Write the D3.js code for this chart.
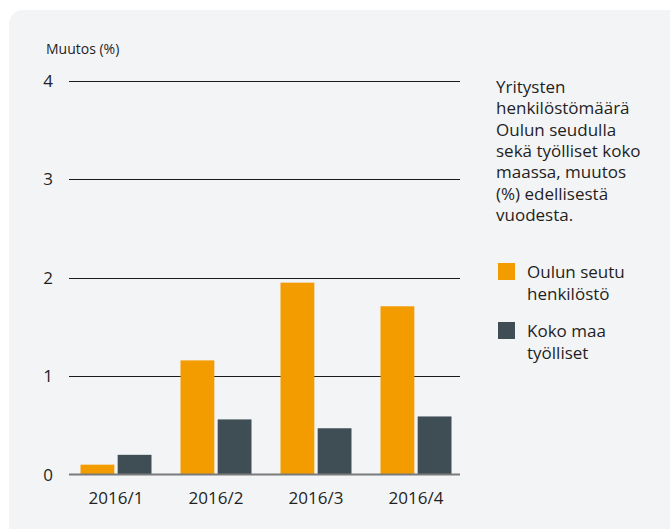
<!DOCTYPE html>
<html>
<head>
<meta charset="utf-8">
<script src="https://cdn.jsdelivr.net/npm/d3@7"></script>
<style>
  html, body { margin: 0; padding: 0; background: #ffffff; }
  svg { display: block; font-family: "Open Sans", "Noto Sans", sans-serif; }
</style>
</head>
<body>
<svg id="chart" width="670" height="529"></svg>
<script>
const categories = ["2016/1", "2016/2", "2016/3", "2016/4"];
const seriesNames = ["Oulun seutu henkilöstö", "Koko maa työlliset"];
const oulunSeutu = [0.1, 1.16, 1.95, 1.71];
const kokoMaa = [0.2, 0.56, 0.47, 0.59];
const yTicks = [0, 1, 2, 3, 4];
const yAxisTitle = "Muutos (%)";
const descLines = ["Yritysten", "henkilöstömäärä", "Oulun seudulla", "sekä työlliset koko", "maassa, muutos", "(%) edellisestä", "vuodesta."];
const legendLines = [["Oulun seutu", "henkilöstö"], ["Koko maa", "työlliset"]];
const colors = ["#f39c00", "#3f4e55"];

const svg = d3.select("#chart");
const textColor = "#1f1f1f";

// panel background
svg.append("rect")
  .attr("x", 9).attr("y", 10)
  .attr("width", 675).attr("height", 540)
  .attr("rx", 14).attr("ry", 14)
  .attr("fill", "#f3f4f6");

const y = d3.scaleLinear().domain([0, 4]).range([474.5, 81]);
const x0 = d3.scaleBand().domain(categories).range([66, 466]).paddingInner(0.29).paddingOuter(0.145);
const x1 = d3.scaleBand().domain([0, 1]).range([0, x0.bandwidth()]).paddingInner(0.09);

const gridLeft = 69, gridRight = 460;

// gridlines
svg.append("g").selectAll("line")
  .data(yTicks.filter(d => d !== 0))
  .join("line")
  .attr("x1", gridLeft).attr("x2", gridRight)
  .attr("y1", d => Math.round(y(d)) + 0.5).attr("y2", d => Math.round(y(d)) + 0.5)
  .attr("stroke", "#1a1a1a").attr("stroke-width", 1);

// y tick labels
svg.append("g").selectAll("text")
  .data(yTicks)
  .join("text")
  .attr("x", 53)
  .attr("y", d => y(d) + 6)
  .attr("text-anchor", "end")
  .attr("font-size", 17)
  .attr("fill", textColor)
  .text(d => d3.format("d")(d));

// y axis title
svg.append("text")
  .attr("x", 46).attr("y", 54)
  .attr("font-size", 14)
  .attr("fill", textColor)
  .text(yAxisTitle);

// bars
const groups = svg.append("g").selectAll("g")
  .data(categories.map((c, i) => ({ c, vals: [oulunSeutu[i], kokoMaa[i]] })))
  .join("g")
  .attr("transform", d => `translate(${x0(d.c)},0)`);

groups.selectAll("rect")
  .data(d => d.vals.map((v, j) => ({ v, j })))
  .join("rect")
  .attr("x", d => x1(d.j))
  .attr("width", x1.bandwidth())
  .attr("y", d => y(d.v))
  .attr("height", d => y(0) - y(d.v))
  .attr("fill", d => colors[d.j]);

// zero line
svg.append("line")
  .attr("x1", gridLeft).attr("x2", gridRight)
  .attr("y1", y(0)).attr("y2", y(0))
  .attr("stroke", "#7a7a7a").attr("stroke-width", 2);

// x labels
svg.append("g").selectAll("text")
  .data(categories)
  .join("text")
  .attr("x", d => x0(d) + x0.bandwidth() / 2)
  .attr("y", 504)
  .attr("text-anchor", "middle")
  .attr("font-size", 17)
  .attr("fill", textColor)
  .text(d => d);

// description
svg.append("g").selectAll("text")
  .data(descLines)
  .join("text")
  .attr("x", 496)
  .attr("y", (d, i) => 93 + i * 21.3)
  .attr("font-size", 17)
  .attr("fill", textColor)
  .text(d => d);

// legend
const legend = svg.append("g").selectAll("g")
  .data(seriesNames)
  .join("g")
  .attr("transform", (d, i) => `translate(498, ${263 + i * 59})`);

legend.append("rect")
  .attr("width", 17).attr("height", 17)
  .attr("fill", (d, i) => colors[i]);

legend.each(function(d, i) {
  d3.select(this).selectAll("text")
    .data(legendLines[i])
    .join("text")
    .attr("x", 29)
    .attr("y", (t, k) => 15 + k * 22)
    .attr("font-size", 17)
    .attr("fill", textColor)
    .text(t => t);
});
</script>
</body>
</html>
